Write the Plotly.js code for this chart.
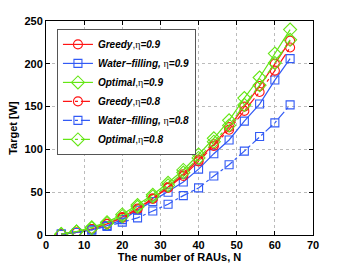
<!DOCTYPE html>
<html><head><meta charset="utf-8">
<script src="https://cdn.plot.ly/plotly-3.0.1.min.js"></script>
<style>html,body{margin:0;padding:0;background:#fff}</style>
</head><body><div id="chart" style="width:348px;height:265px"></div>
<script>
const N = [4,8,12,16,20,24,28,32,36,40,44,48,52,56,60,64];
const greedy09 = [1,3,7,13,21,31,43,56,71,88,106,126,150,174,200,227];
const water09  = [1,3,6,11,18,29,39,50,62,77,95,111,133,153,181,206];
const optimal09= [1,4,9,15,24,35,47,61,76,94,113,134,160,184,212,240];
const greedy08 = [1,3,7,13,20,30,42,55,69,86,104,123,145,167,192,219];
const water08  = [1,3,6,10,15,20,28,36,46,55,69,82,98,115,131,152];
const optimal08= [1,4,8,14,22,33,45,58,73,90,109,128,152,175,201,228];
const eta = '<span style="font-family:Liberation Serif, serif">η</span>';
const names = [
  "<b><i>Greedy</i></b>,"+eta+"<b><i>=0.9</i></b>",
  "<b><i>Water−filling,</i></b> "+eta+"<b><i>=0.9</i></b>",
  "<b><i>Optimal</i></b>,"+eta+"<b><i>=0.9</i></b>",
  "<b><i>Greedy</i></b>,"+eta+"<b><i>=0.8</i></b>",
  "<b><i>Water−filling,</i></b> "+eta+"<b><i>=0.8</i></b>",
  "<b><i>Optimal</i></b>,"+eta+"<b><i>=0.8</i></b>"
];
const red='rgb(255,20,20)', blue='rgb(50,90,245)', green='rgb(100,230,20)';
function tr(y,name,color,sym,dash,size){
  return {x:N,y:y,name:name,type:'scatter',mode:'lines+markers',
    line:{color:color,width:1.2,dash:dash},
    marker:{symbol:sym,size:size,color:color,line:{color:color,width:1.1}}};
}
const data=[
  tr(greedy09,names[0],red,'circle-open','solid',9),
  tr(water09,names[1],blue,'square-open','solid',8),
  tr(optimal09,names[2],green,'diamond-open','solid',10),
  tr(greedy08,names[3],red,'circle-open','dashdot',9),
  tr(water08,names[4],blue,'square-open','dashdot',8),
  tr(optimal08,names[5],green,'diamond-open','dashdot',10)
];
const layout={
  width:348,height:265,
  margin:{l:46,r:35,t:21,b:30},
  paper_bgcolor:'#fff',plot_bgcolor:'#fff',
  font:{family:'Liberation Sans, Arial, sans-serif',size:11,color:'#000'},
  showlegend:true,
  legend:{x:0.041,y:0.963,xanchor:'left',yanchor:'top',bgcolor:'#fff',
    bordercolor:'#555',borderwidth:1,font:{size:10},tracegroupgap:0,itemwidth:30},
  xaxis:{range:[0,70],dtick:10,showline:true,mirror:'ticks',linecolor:'#000',linewidth:1,
    ticks:'inside',ticklen:4,tickcolor:'#000',showgrid:true,gridcolor:'#bbb',griddash:'dot',
    zeroline:false,tickfont:{size:11,family:'Liberation Sans, Arial'},
    tickprefix:'<b>',ticksuffix:'</b>',
    title:{text:'<b>The number of RAUs, N</b>',font:{size:11},standoff:2}},
  yaxis:{range:[0,250],dtick:50,showline:true,mirror:'ticks',linecolor:'#000',linewidth:1,
    ticks:'inside',ticklen:4,tickcolor:'#000',showgrid:true,gridcolor:'#bbb',griddash:'dot',
    zeroline:false,tickfont:{size:11},tickprefix:'<b>',ticksuffix:'</b>',
    title:{text:'<b>Target [W]</b>',font:{size:11},standoff:4}}
};
Plotly.newPlot('chart',data,layout,{displayModeBar:false,staticPlot:true});
</script></body></html>
